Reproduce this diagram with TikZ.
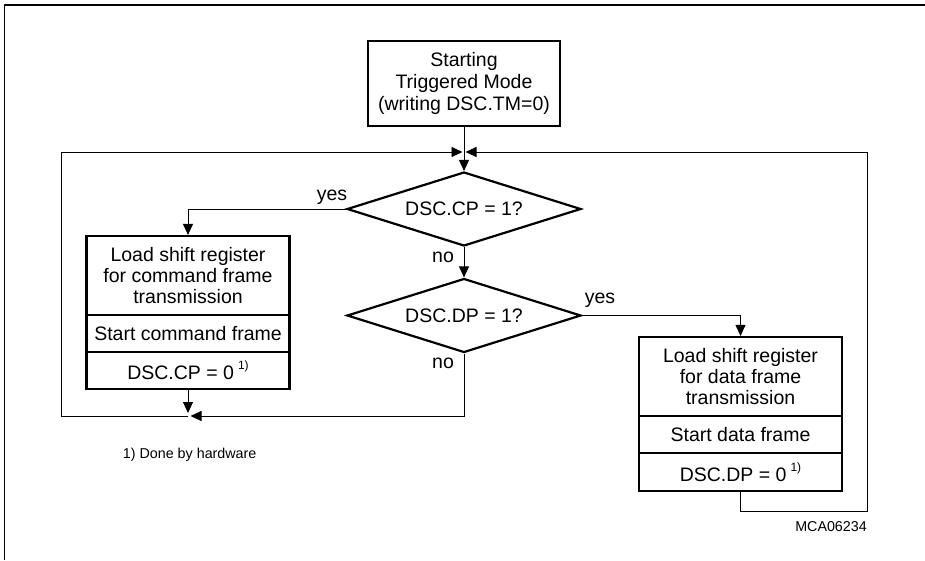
\documentclass[tikz,border=0pt]{standalone}
\usepackage{fontspec}
\setmainfont{Liberation Sans}
\usetikzlibrary{shapes.geometric,arrows.meta}
\begin{document}
\begin{tikzpicture}[x=1pt,y=-1pt,
  box/.style={draw,line width=2.2pt,rectangle,minimum width=203pt,inner sep=0pt,align=center,font=\fontsize{19.5}{20.7}\selectfont},
  dec/.style={draw,line width=2.2pt,diamond,aspect=3.16,minimum width=234pt,minimum height=74pt,inner sep=0pt,font=\fontsize{19.5}{21}\selectfont},
  conn/.style={line width=0.9pt},
  arr/.style={conn,-{Triangle[length=11pt,width=10pt]}},
  lbl/.style={font=\fontsize{19.5}{21}\selectfont,inner sep=0pt},
  small/.style={font=\fontsize{14.3}{16}\selectfont,inner sep=0pt}]
\useasboundingbox (0,0) rectangle (925,560);
\draw[line width=1.8pt] (4.5,560) -- (4.5,5) -- (925,5);

\node[box,minimum width=192pt,minimum height=85pt,font=\fontsize{19.5}{21.7}\selectfont] (start) at (464,83.5)
  {Starting\\Triggered Mode\\(writing DSC.TM=0)};
\node[dec] (d1) at (464,209) {DSC.CP = 1?};
\node[dec] (d2) at (464,315.5) {DSC.DP = 1?};

\node[box,minimum height=79pt] (lb1) at (188,275.5) {Load shift register\\for command frame\\transmission};
\node[box,minimum height=37pt] (lb2) at (188,333.5) {Start command frame};
\node[box,minimum height=37pt] (lb3) at (188,370.5) {DSC.CP = 0\hspace{4pt}\raisebox{0.5em}{\fontsize{12}{12}\selectfont 1)}};

\node[box,minimum height=79pt] (rb1) at (740.5,376.5) {Load shift register\\for data frame\\transmission};
\node[box,minimum height=37pt] (rb2) at (740.5,434.5) {Start data frame};
\node[box,minimum height=38pt] (rb3) at (740.5,472) {DSC.DP = 0\hspace{4pt}\raisebox{0.5em}{\fontsize{12}{12}\selectfont 1)}};

\coordinate (jT) at (464,152);
\coordinate (jL) at (188,416);

\draw[arr] (start.south) -- (d1.north);
\draw[arr] (jL) -- (61,416) -- (61,152) -- ([xshift=-1.5pt]jT);
\draw[arr] (rb3.south) |- (867,511) -- (867,152) -- ([xshift=1.5pt]jT);
\draw[arr] (d1.west) -| (lb1.north);
\draw[arr] (d1.south) -- (d2.north);
\draw[arr] (d2.east) -| (rb1.north);
\draw[arr] (d2.south) |- ([xshift=2.5pt]jL);
\draw[arr] (lb3.south) -- ([yshift=3pt]jL);

\node[lbl] (yes1) at (332,197) {yes};
\node[lbl] (no1) at (443,257) {no};
\node[lbl] (yes2) at (600,300) {yes};
\node[lbl] (no2) at (443,363) {no};

\node[small,anchor=west] (fn) at (122.7,455) {1) Done by hardware};
\node[small,anchor=east] (id) at (867,527) {MCA06234};
\end{tikzpicture}
\end{document}
